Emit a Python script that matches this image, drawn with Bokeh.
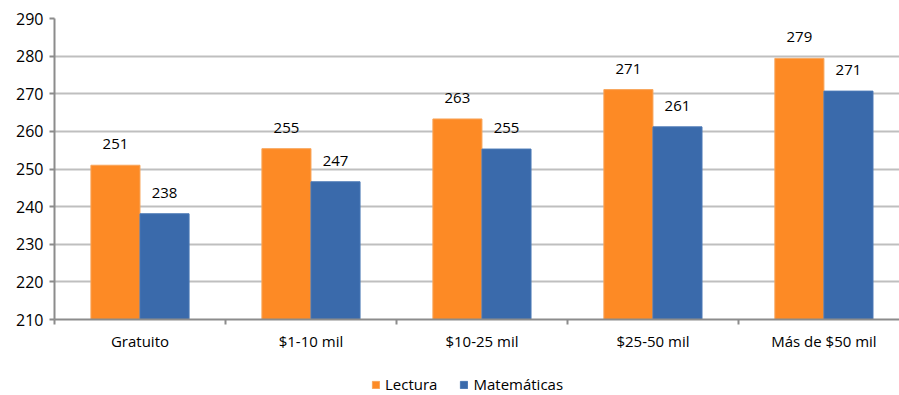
from bokeh.plotting import figure
from bokeh.layouts import column
from bokeh.models import ColumnDataSource, FixedTicker, Legend, LegendItem, Range1d, LabelSet
from bokeh.core.properties import value
from bokeh.embed import file_html
from bokeh.resources import INLINE

categories = ["Gratuito", "$1-10 mil", "$10-25 mil", "$25-50 mil", "Más de $50 mil"]
lectura = [251.0, 255.4, 263.3, 271.1, 279.4]
matematicas = [238.1, 246.6, 255.3, 261.2, 270.7]
series_names = ["Lectura", "Matemáticas"]
y_ticks = [210, 220, 230, 240, 250, 260, 270, 280, 290]

FONT = "Open Sans"
ORANGE = "#FD8A25"
BLUE = "#3A6AAB"
ORANGE_EDGE = "#F8A55A"
BLUE_EDGE = "#4A78B5"

n = len(categories)
centers = [i + 0.5 for i in range(n)]
bw = 0.287

src_l = ColumnDataSource(dict(x=[c - bw / 2 for c in centers], top=lectura,
                              lab=[str(round(v)) for v in lectura]))
src_m = ColumnDataSource(dict(x=[c + bw / 2 for c in centers], top=matematicas,
                              lab=[str(round(v)) for v in matematicas]))

p = figure(width=899, height=358, output_backend="svg", toolbar_location=None,
           x_range=Range1d(0, 4.942), y_range=Range1d(210, 290),
           min_border_left=54, min_border_right=0, min_border_top=18, min_border_bottom=39)
p.outline_line_color = None
p.background_fill_color = "white"

p.vbar(x="x", top="top", bottom=210, width=bw, source=src_l,
       fill_color=ORANGE, line_color=ORANGE_EDGE, line_width=1)
p.vbar(x="x", top="top", bottom=210, width=bw, source=src_m,
       fill_color=BLUE, line_color=BLUE_EDGE, line_width=1)

for src in (src_l, src_m):
    p.add_layout(LabelSet(x="x", y="top", text="lab", source=src, y_offset=21,
                          text_align="center", text_baseline="middle",
                          text_font=value(FONT), text_font_size="15px", text_color="#000000"))

# x axis
p.xaxis.ticker = FixedTicker(ticks=centers, minor_ticks=list(range(n + 1)))
p.xaxis.major_label_overrides = {c: categories[i] for i, c in enumerate(centers)}
p.xaxis.major_tick_out = 0
p.xaxis.major_tick_in = 0
p.xaxis.minor_tick_out = 5
p.xaxis.minor_tick_in = 0
p.xaxis.minor_tick_line_color = "#8C8C8C"
p.xaxis.minor_tick_line_width = 2
p.xaxis.axis_line_color = "#8C8C8C"
p.xaxis.axis_line_width = 2
p.xaxis.major_label_text_font = FONT
p.xaxis.major_label_text_font_size = "15px"
p.xaxis.major_label_text_color = "#000000"
p.xaxis.major_label_standoff = 6
p.xgrid.visible = False

# y axis
p.yaxis.ticker = FixedTicker(ticks=y_ticks)
p.yaxis.minor_tick_line_color = None
p.yaxis.major_tick_out = 5
p.yaxis.major_tick_in = 0
p.yaxis.major_tick_line_color = "#8C8C8C"
p.yaxis.major_tick_line_width = 2
p.yaxis.axis_line_color = "#8C8C8C"
p.yaxis.axis_line_width = 2
p.yaxis.major_label_text_font = FONT
p.yaxis.major_label_text_font_size = "16px"
p.yaxis.major_label_text_color = "#000000"
p.yaxis.major_label_standoff = 6
p.ygrid.grid_line_color = "#BFBFBF"
p.ygrid.grid_line_width = 2

# legend strip below the chart (proxy glyphs placed outside the visible range)
pl = figure(width=899, height=37, output_backend="svg", toolbar_location=None,
            x_range=Range1d(0, 1), y_range=Range1d(0, 1),
            min_border_left=0, min_border_right=0, min_border_top=0, min_border_bottom=0)
pl.axis.visible = False
pl.grid.visible = False
pl.outline_line_color = None
gl = pl.vbar(x=[5], top=[5], bottom=[4], width=0.1, fill_color=ORANGE, line_color=ORANGE_EDGE)
gm = pl.vbar(x=[5], top=[5], bottom=[4], width=0.1, fill_color=BLUE, line_color=BLUE_EDGE)
legend = Legend(items=[LegendItem(label=series_names[0], renderers=[gl]),
                       LegendItem(label=series_names[1], renderers=[gm])],
                orientation="horizontal", location=(317, 1),
                label_text_font=FONT, label_text_font_size="15px", label_text_color="#000000",
                glyph_width=9, glyph_height=9, spacing=22, label_standoff=5,
                border_line_color=None, background_fill_alpha=0, margin=0, padding=2)
pl.add_layout(legend, "center")

layout = column(p, pl, spacing=0)
open("out.html", "w").write(file_html(layout, INLINE))
